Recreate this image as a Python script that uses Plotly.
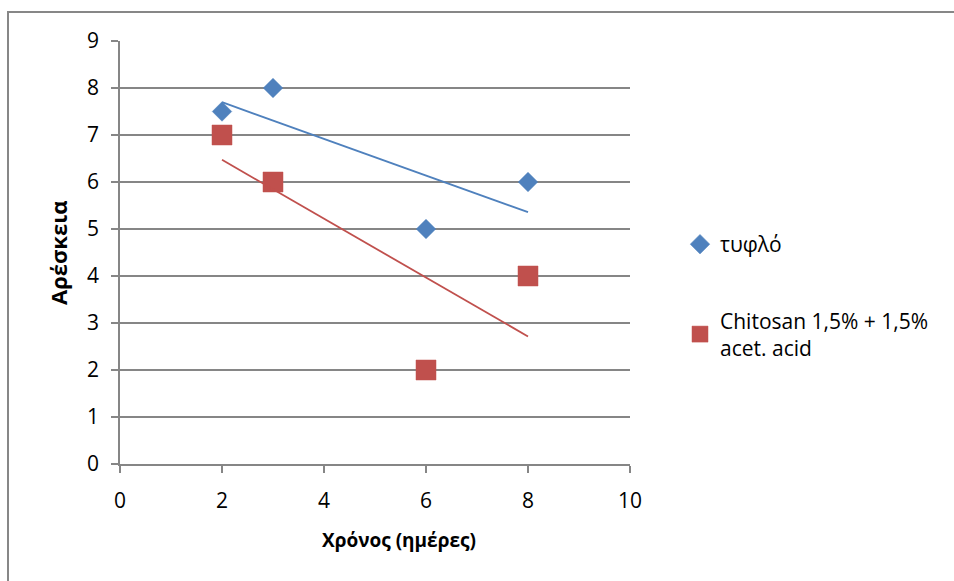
import numpy as np
import plotly.graph_objects as go

days = [2, 3, 6, 8]
blank = [7.5, 8, 5, 6]
chitosan = [7, 6, 2, 4]
names = ["τυφλό", "Chitosan 1,5% + 1,5%<br>acet. acid"]
colors = ["#4F81BD", "#C0504D"]
x_ticks = [0, 2, 4, 6, 8, 10]
y_ticks = list(range(0, 10))
x_title = "Χρόνος (ημέρες)"
y_title = "Αρέσκεια"

W, H = 954, 581
L, R, T, B = 120, 324, 41, 117
pw, ph = W - L - R, H - T - B

FONT = "Open Sans, Noto Sans, DejaVu Sans"
GRID = "#868686"

fig = go.Figure()

series = [blank, chitosan]
symbols = ["diamond", "square"]
sizes = [15, 20]
for i, ys in enumerate(series):
    fig.add_trace(go.Scatter(
        x=days, y=ys, mode="markers", name=names[i],
        legendgroup=f"g{i}",
        marker=dict(symbol=symbols[i], size=sizes[i], color=colors[i],
                    line=dict(color=colors[i], width=0.5)),
    ))

for i, ys in enumerate(series):
    m, c = np.polyfit(days, ys, 1)
    xs = np.array([min(days), max(days)])
    fig.add_trace(go.Scatter(
        x=xs, y=m * xs + c, mode="lines", showlegend=False,
        line=dict(color=colors[i], width=1.8), hoverinfo="skip",
    ))

def px_x(p):
    return (p - L) / pw

def px_y(p):
    return (H - B - p) / ph

fig.add_shape(type="rect", xref="paper", yref="paper",
              x0=px_x(8), y0=px_y(600), x1=px_x(1000), y1=px_y(12),
              line=dict(color="#878787", width=2), fillcolor="rgba(0,0,0,0)",
              layer="below")

fig.add_annotation(text=f"<b>{x_title}</b>", xref="paper", yref="paper",
                   x=px_x(399), y=px_y(540), xanchor="center", yanchor="middle",
                   showarrow=False, font=dict(size=19))
fig.add_annotation(text=f"<b>{y_title}</b>", xref="paper", yref="paper",
                   x=px_x(58), y=px_y(253), xanchor="center", yanchor="middle",
                   textangle=-90, showarrow=False, font=dict(size=22))

fig.update_layout(
    width=W, height=H,
    margin=dict(l=L, r=R, t=T, b=B, autoexpand=False),
    paper_bgcolor="white", plot_bgcolor="white",
    font=dict(family=FONT, size=21, color="#000000"),
    showlegend=True,
    legend=dict(x=px_x(680), y=px_y(224), xanchor="left", yanchor="top",
                tracegroupgap=46, font=dict(size=21), itemwidth=30,
                bgcolor="rgba(0,0,0,0)"),
    xaxis=dict(range=[0, 10], tickvals=x_ticks, showgrid=False,
               showline=True, linecolor=GRID, linewidth=1.5,
               ticks="outside", ticklen=7, tickcolor=GRID, tickwidth=1.5,
               ticklabelstandoff=10,
               zeroline=False, tickfont=dict(size=21)),
    yaxis=dict(range=[0, 9], tickvals=y_ticks, showgrid=True, gridcolor=GRID,
               gridwidth=1.5, showline=True, linecolor=GRID, linewidth=1.5,
               ticks="outside", ticklen=7, tickcolor=GRID, tickwidth=1.5,
               ticklabelstandoff=8,
               zeroline=False, tickfont=dict(size=21)),
)

fig.write_html("out.html")
